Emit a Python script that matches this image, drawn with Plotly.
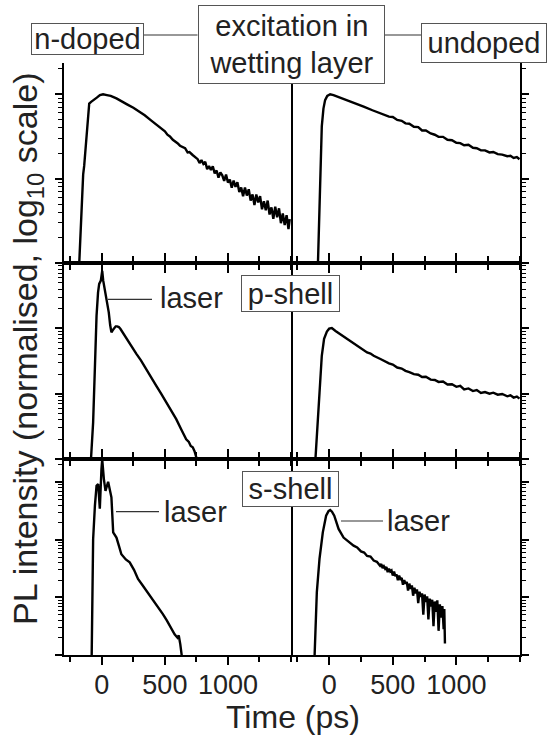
import plotly.graph_objects as go

# ---------------- data (time in ps, log10 of normalised PL intensity) ----------------
t_wl_n = [-182, -160, -148, -140, -120, -100, -85, -69, -40, -15, 10, 40, 70, 116, 160, 200, 250, 300, 340,
          390, 432, 460, 480, 500, 520, 540, 563, 580, 600, 620, 640, 660, 680, 695, 720, 740,
          760, 775, 790, 805, 820, 835, 850, 865, 880, 895, 910, 925, 940, 955, 970, 985, 1000, 1015,
          1030, 1045, 1060, 1075, 1090, 1105, 1120, 1135, 1150, 1165, 1180, 1195, 1210, 1225, 1240,
          1255, 1270, 1285, 1300, 1315, 1330, 1345, 1360, 1375, 1390, 1405, 1420, 1435, 1450, 1465,
          1480, 1490]
l_wl_n = [-2.1, -1.3, -0.95, -0.85, -0.45, -0.11, -0.09, -0.075, -0.04, -0.01, 0.0, -0.01, -0.02, -0.05,
          -0.09, -0.12, -0.16, -0.205, -0.25, -0.31, -0.36, -0.385, -0.42, -0.44, -0.48, -0.50, -0.54,
          -0.555, -0.58, -0.61, -0.63, -0.64, -0.69, -0.685, -0.72, -0.745,
          -0.77, -0.815, -0.78, -0.826, -0.80, -0.887, -0.852, -0.898, -0.853, -0.939, -0.904, -0.989,
          -0.925, -0.96, -1.026, -0.951, -1.046, -1.012, -1.107, -1.023, -1.098, -1.044, -1.159, -1.104,
          -1.21, -1.105, -1.201, -1.126, -1.261, -1.187, -1.312, -1.188, -1.283, -1.208, -1.364, -1.269,
          -1.375, -1.26, -1.425, -1.341, -1.476, -1.332, -1.457, -1.352, -1.528, -1.413, -1.549, -1.434,
          -1.599, -1.48]

t_wl_u = [-90, -79, -70, -58, -45, -32, -15, 8, 34, 80, 140, 200, 271, 340, 403, 440, 470, 500, 535, 570,
          600, 630, 666, 700, 730, 760, 798, 830, 860, 895, 930, 965, 1000, 1030, 1061, 1095, 1130, 1160,
          1193, 1225, 1260, 1290, 1325, 1360, 1400, 1425, 1450, 1475, 1496]
l_wl_u = [-2.1, -1.44, -0.95, -0.38, -0.17, -0.07, -0.02, 0.0, -0.01, -0.035, -0.067, -0.105, -0.146,
          -0.19, -0.225, -0.24, -0.265, -0.27, -0.305, -0.315, -0.345, -0.35, -0.385, -0.39, -0.43, -0.43,
          -0.465, -0.48, -0.505, -0.505, -0.54, -0.545, -0.575, -0.58, -0.605, -0.60, -0.635, -0.64,
          -0.665, -0.665, -0.69, -0.685, -0.71, -0.715, -0.735, -0.73, -0.755, -0.745, -0.77]

t_p_n = [-89, -69, -55, -42, -30, -21, -8, 3, 11, 25, 37, 55, 66, 76, 86, 95, 110, 121, 135, 148, 170,
         195, 230, 274, 310, 353, 390, 432, 470, 511, 550, 590, 630, 669, 690, 705, 721, 735, 753]
l_p_n = [-3.1, -2.44, -1.6, -0.81, -0.45, -0.32, -0.27, -0.12, -0.27, -0.42, -0.55, -0.755, -0.95,
         -1.06, -1.03, -1.01, -0.97, -0.97, -0.98, -1.01, -1.08, -1.16, -1.26, -1.39, -1.49, -1.62,
         -1.74, -1.88, -2.0, -2.13, -2.25, -2.39, -2.55, -2.70, -2.74, -2.80, -2.82, -2.88, -3.0]

t_p_u = [-111, -92, -77, -58, -40, -18, 0, 21, 50, 87, 140, 192, 220, 250, 298, 325, 350, 403, 440, 470,
         500, 535, 570, 600, 630, 666, 700, 730, 760, 798, 830, 860, 895, 930, 965, 1000, 1030, 1061,
         1095, 1130, 1160, 1193, 1225, 1260, 1290, 1325, 1360, 1400, 1425, 1450, 1475, 1496]
l_p_u = [-3.1, -2.54, -1.93, -1.42, -1.16, -1.05, -1.005, -0.995, -1.04, -1.09, -1.17, -1.24, -1.265,
         -1.31, -1.37, -1.385, -1.42, -1.47, -1.51, -1.535, -1.555, -1.60, -1.615, -1.65, -1.67, -1.70,
         -1.71, -1.745, -1.74, -1.785, -1.79, -1.82, -1.815, -1.86, -1.855, -1.895, -1.88, -1.935,
         -1.92, -1.96, -1.945, -1.99, -1.975, -2.0, -1.985, -2.015, -2.005, -2.04, -2.025, -2.06,
         -2.045, -2.075]

t_s_n = [-81, -75, -69, -55, -42, -29, -16, -3, 3, 16, 29, 50, 63, 76, 90, 116, 135, 155, 190, 221,
         255, 287, 320, 353, 385, 419, 450, 484, 515, 550, 577, 600, 610, 622, 636]
l_s_n = [-3.1, -2.0, -0.99, -0.41, -0.06, -0.03, -0.46, 0.23, 0.40, 0.06, -0.15, 0.01, -0.15, -0.26,
         -0.87, -0.96, -1.10, -1.25, -1.34, -1.39, -1.52, -1.68, -1.78, -1.88, -1.98, -2.09, -2.18,
         -2.29, -2.40, -2.55, -2.64, -2.70, -2.66, -2.81, -3.05]

t_s_u = [-116, -97, -76, -50, -24, -5, 8, 22, 40, 74, 113, 150, 170, 192, 220, 250, 275, 298, 325, 350,
         375, 400, 410, 420, 430, 440, 450, 460, 470, 480, 490, 500, 510, 520, 530, 540, 550, 560, 570,
         580, 590, 600, 610, 620, 630, 640, 650, 660, 670, 680, 690, 700, 710, 720, 730, 740, 750, 760,
         770, 780, 790, 800, 810, 820, 830, 840, 850, 860, 870, 880, 890, 900, 905, 910]
l_s_u = [-3.1, -1.91, -1.33, -0.87, -0.58, -0.50, -0.48, -0.51, -0.58, -0.81, -0.96, -1.03, -1.06,
         -1.10, -1.13, -1.20, -1.22, -1.28, -1.29, -1.36, -1.38, -1.45, -1.42, -1.49, -1.46, -1.50,
         -1.47, -1.56, -1.50, -1.55, -1.53, -1.62, -1.55, -1.63, -1.60, -1.70, -1.62, -1.68, -1.66,
         -1.78, -1.70, -1.76, -1.73, -1.88, -1.76, -1.85, -1.79, -1.97, -1.83, -1.93, -1.86, -2.10,
         -1.90, -1.99, -1.93, -2.30, -1.95, -2.08, -1.98, -2.38, -2.02, -2.16, -2.04, -2.50, -2.07,
         -2.25, -2.05, -2.58, -2.12, -2.35, -2.15, -2.55, -2.20, -2.80]

x_tick_vals = [0, 500, 1000]
x_tick_text = ["0", "500", "1000"]

# ---------------- layout geometry (pixels) ----------------
W, H = 550, 736
def px(x):
    return x / W
def py(y):
    return 1 - y / H

col_x = [(64, 291), (291, 520)]
row_y = [(63, 263), (263, 459), (459, 655)]
y_ranges = [(-2, 0.37), (-3, 0), (-3, 0.405)]

series = [
    [(t_wl_n, l_wl_n), (t_wl_u, l_wl_u)],
    [(t_p_n, l_p_n), (t_p_u, l_p_u)],
    [(t_s_n, l_s_n), (t_s_u, l_s_u)],
]

fig = go.Figure()
FONT = "Arial, Liberation Sans, sans-serif"
major_y = [10.0 ** d for d in range(-4, 2)]
minor_y = [k * 10.0 ** d for d in range(-4, 1) for k in range(2, 10)]

layout = dict(
    width=W, height=H, margin=dict(l=0, r=0, t=0, b=0),
    paper_bgcolor="white", plot_bgcolor="white", showlegend=False,
    font=dict(family=FONT, color="#222"),
)

idx = 0
for r in range(3):
    for c in range(2):
        idx += 1
        sx = "" if idx == 1 else str(idx)
        t, l = series[r][c]
        fig.add_trace(go.Scatter(
            x=t, y=[10 ** v for v in l], mode="lines",
            line=dict(color="black", width=2.4),
            xaxis="x" + sx, yaxis="y" + sx, hoverinfo="skip", cliponaxis=True,
        ))
        x0, x1 = col_x[c]
        y0, y1 = row_y[r]
        layout["xaxis" + sx] = dict(
            domain=[px(x0), px(x1)], anchor="y" + sx, range=[-300, 1500],
            showline=True, linecolor="black", linewidth=2,
            mirror=("ticks" if r > 0 else False),
            ticks="outside", ticklen=8, tickwidth=2, tickcolor="black",
            tickmode="array", tickvals=x_tick_vals, ticktext=x_tick_text,
            showticklabels=(r == 2), tickfont=dict(size=27, family=FONT, color="#222"),
            ticklabelstandoff=-3,
            minor=dict(tickmode="linear", tick0=0, dtick=250, ticks="outside",
                       ticklen=5, tickwidth=2, tickcolor="black"),
            showgrid=False, zeroline=False, fixedrange=True,
        )
        layout["yaxis" + sx] = dict(
            domain=[py(y1), py(y0)], anchor="x" + sx, type="log",
            range=list(y_ranges[r]), side=("left" if c == 0 else "right"),
            showline=True, linecolor="black", linewidth=2, mirror=(c == 0),
            ticks="outside", ticklen=7, tickwidth=1.5, tickcolor="black",
            tickmode="array", tickvals=major_y, showticklabels=False,
            minor=dict(tickmode="array", tickvals=minor_y, ticks="outside",
                       ticklen=4, tickwidth=1, tickcolor="black"),
            showgrid=False, zeroline=False, fixedrange=True,
        )

fig.update_layout(**layout)

annotations = []
shapes = []

def box(text, cx, cy, w, h, size=29):
    annotations.append(dict(
        text=text, xref="paper", yref="paper", x=px(cx), y=py(cy),
        xanchor="center", yanchor="middle", showarrow=False,
        font=dict(size=size, family=FONT, color="#222"),
        bordercolor="#555", borderwidth=1, borderpad=0, bgcolor="white",
        width=w, height=h,
    ))

box("n-doped", 87.5, 38.6, 111, 30)
box("excitation in<br>wetting layer", 291, 44.7, 185, 77)
box("undoped", 484, 43.2, 124, 38)
box("p-shell", 290, 293.3, 97, 35)
box("s-shell", 290, 488.7, 95, 34)

def seg(xa, ya, xb, yb, w=1.2, col="#333"):
    shapes.append(dict(type="line", xref="paper", yref="paper",
                       x0=px(xa), y0=py(ya), x1=px(xb), y1=py(yb),
                       line=dict(color=col, width=w), layer="above"))

seg(144, 35, 197.5, 35)
seg(384.5, 35, 421, 35)

def laser(x_text, y_text, xl0, xl1, yl):
    annotations.append(dict(
        text="laser", xref="paper", yref="paper", x=px(x_text), y=py(y_text),
        xanchor="left", yanchor="middle", showarrow=False,
        font=dict(size=29, family=FONT, color="#222"),
    ))
    seg(xl0, yl, xl1, yl)

laser(158, 298, 108, 152, 299.3)
laser(162, 512, 116, 159, 511.7)
laser(385, 521, 341, 383, 521)

annotations.append(dict(
    text="PL intensity (normalised, log<sub>10</sub> scale)", xref="paper", yref="paper",
    x=px(27), y=py(349), xanchor="center", yanchor="middle", textangle=-90, showarrow=False,
    font=dict(size=34, family=FONT, color="#222"),
))
annotations.append(dict(
    text="Time (ps)", xref="paper", yref="paper", x=px(293), y=py(717),
    xanchor="center", yanchor="middle", showarrow=False,
    font=dict(size=32, family=FONT, color="#222"),
))

fig.update_layout(annotations=annotations, shapes=shapes)
fig.write_html("out.html")
